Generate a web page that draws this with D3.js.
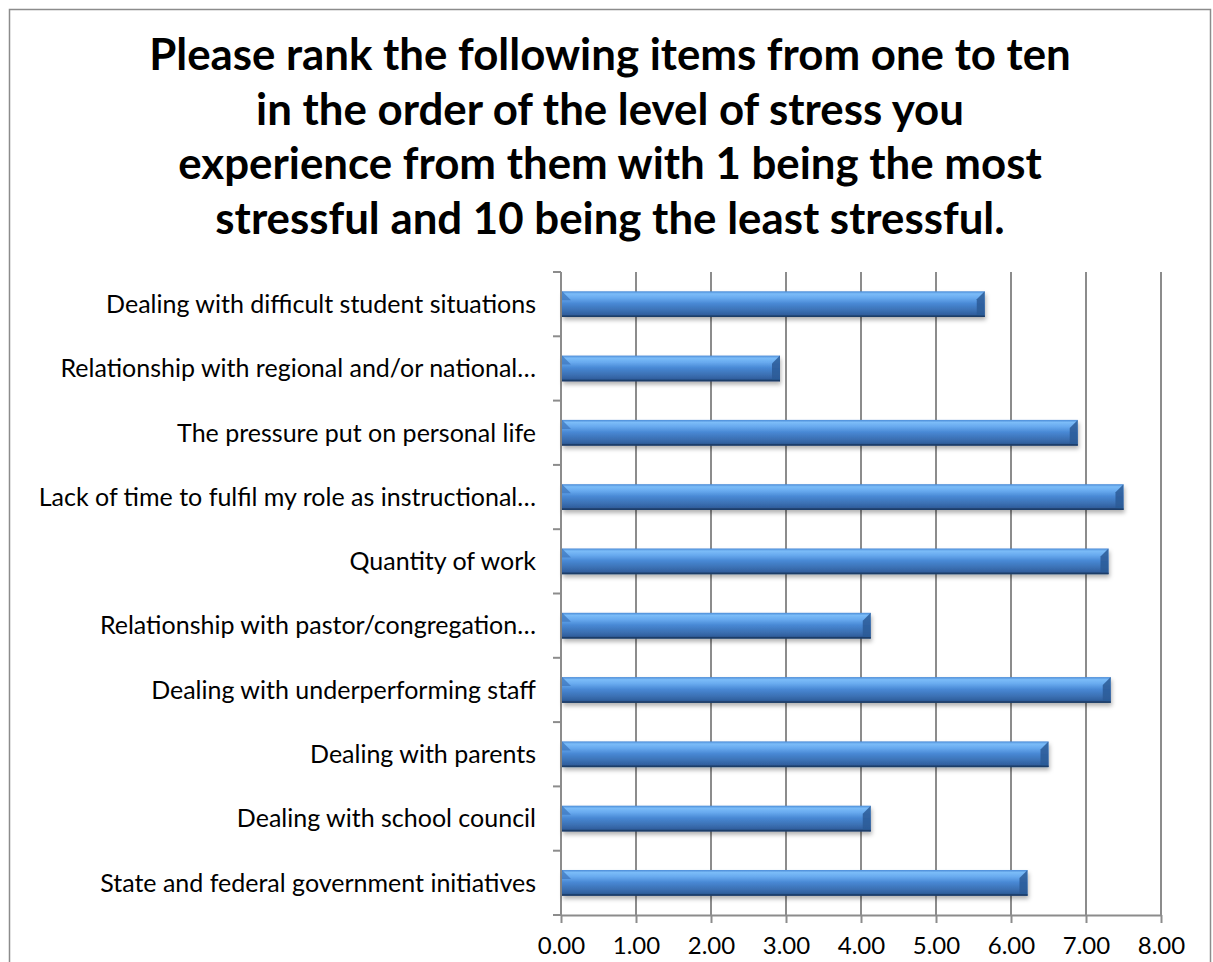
<!DOCTYPE html>
<html lang="en">
<head>
  <meta charset="utf-8">
  <title>Stress ranking</title>
  <script src="https://cdnjs.cloudflare.com/ajax/libs/d3/7.8.5/d3.min.js"></script>
  <style>
    body { margin: 0; background: #fff; }
    text { font-family: Lato, "Open Sans", sans-serif; fill: #000; }
    .grid line { stroke: #8c8c8c; stroke-width: 2; }
    .axis path, .axis line { stroke: #8c8c8c; stroke-width: 2; }
    .eixo-x text { font-size: 24px; }
  </style>
</head>
<body>
  <div id="chart"></div>

  <script>
    "use strict"

    var titulo = [
      "Please rank the following items from one to ten",
      "in the order of the level of stress you",
      "experience from them with 1 being the most",
      "stressful and 10 being the least stressful."
    ];

    var categorias = [
      "Dealing with difficult student situations",
      "Relationship with regional and/or national…",
      "The pressure put on personal life",
      "Lack of time to fulfil my role as instructional…",
      "Quantity of work",
      "Relationship with pastor/congregation…",
      "Dealing with underperforming staff",
      "Dealing with parents",
      "Dealing with school council",
      "State and federal government initiatives"
    ];

    var valores = [5.65, 2.92, 6.89, 7.50, 7.30, 4.13, 7.33, 6.50, 4.13, 6.22];

    var ticksX = [0, 1, 2, 3, 4, 5, 6, 7, 8];

    var larguraSVG = 1213, alturaSVG = 962;
    var margin = {top: 272, right: 52, bottom: 47, left: 561};
    var larguraVis = larguraSVG - margin.left - margin.right,
        alturaVis = alturaSVG - margin.top - margin.bottom;

    var svg = d3.select("#chart")
      .append("svg")
        .attr("width", larguraSVG)
        .attr("height", alturaSVG);

    // gradiente das barras
    var defs = svg.append("defs");
    var grad = defs.append("linearGradient")
        .attr("id", "gradBarra")
        .attr("x1", 0).attr("y1", 0).attr("x2", 0).attr("y2", 1);
    [["0%", "#4a8ad6"], ["10%", "#7bbcf8"], ["26%", "#68aaef"], ["48%", "#4888d4"],
     ["75%", "#3b70b3"], ["90%", "#31609f"], ["100%", "#1f416e"]]
      .forEach(function(s) { grad.append("stop").attr("offset", s[0]).attr("stop-color", s[1]); });

    var sombra = defs.append("filter")
        .attr("id", "sombra")
        .attr("x", "-5%").attr("y", "-20%").attr("width", "110%").attr("height", "160%");
    sombra.append("feDropShadow")
        .attr("dx", 1).attr("dy", 3).attr("stdDeviation", 2)
        .attr("flood-color", "#000").attr("flood-opacity", 0.3);

    // moldura
    svg.append("rect")
      .attr("x", 9.5).attr("y", 9.5)
      .attr("width", 1201).attr("height", 990)
      .attr("fill", "none")
      .attr("stroke", "#8c8c8c")
      .attr("stroke-width", 1.5);

    // titulo
    var tituloG = svg.append("g")
      .attr("font-weight", "bold")
      .attr("text-anchor", "middle");
    var linhasTitulo = tituloG.selectAll("text")
        .data(titulo)
      .enter().append("text")
        .attr("x", 610)
        .attr("y", function(d, i) { return 70 + i * 54.7; })
        .style("font-size", "40px")
        .text(function(d) { return d; });
    // ajusta o tamanho da fonte para a largura da primeira linha
    var w0 = linhasTitulo.node().getComputedTextLength();
    linhasTitulo.style("font-size", (40 * 922 / w0) + "px");

    var grafico = svg.append("g")
        .attr("transform", "translate(" + margin.left + "," + margin.top + ")");

    var x = d3.scaleLinear()
              .domain([0, 8])
              .range([0, larguraVis]);

    var y = d3.scaleBand()
              .domain(categorias)
              .range([0, alturaVis])
              .paddingInner(0.6)
              .paddingOuter(0.3);

    // grade vertical
    grafico.append("g")
      .attr("class", "grid")
      .selectAll("line")
        .data(ticksX.slice(1))
      .enter().append("line")
        .attr("x1", function(d) { return x(d); })
        .attr("x2", function(d) { return x(d); })
        .attr("y1", 0)
        .attr("y2", alturaVis);

    // eixo x
    grafico.append("g")
      .attr("class", "axis eixo-x")
      .attr("transform", "translate(0," + alturaVis + ")")
      .call(d3.axisBottom(x)
        .tickValues(ticksX)
        .tickSize(8)
        .tickSizeOuter(0)
        .tickPadding(14)
        .tickFormat(d3.format(".2f")))
      .attr("font-size", null)
      .attr("font-family", null);

    // eixo y com marcas entre categorias
    var bordas = d3.range(categorias.length + 1).map(function(i) { return i * alturaVis / categorias.length; });
    var eixoY = grafico.append("g").attr("class", "axis");
    eixoY.append("line")
      .attr("x1", 0).attr("x2", 0)
      .attr("y1", 0).attr("y2", alturaVis);
    eixoY.selectAll(".tk")
        .data(bordas)
      .enter().append("line")
        .attr("class", "tk")
        .attr("x1", -8).attr("x2", 0)
        .attr("y1", function(d) { return d; })
        .attr("y2", function(d) { return d; });

    var rotulos = eixoY.selectAll(".rot")
        .data(categorias)
      .enter().append("text")
        .attr("class", "rot")
        .attr("x", -25)
        .attr("y", function(d) { return y(d) + y.bandwidth() / 2; })
        .attr("dy", "0.35em")
        .attr("text-anchor", "end")
        .style("font-size", "20px")
        .text(function(d) { return d; });
    var wRef = rotulos.filter(function(d, i) { return i === 9; }).node().getComputedTextLength();
    rotulos.style("font-size", (20 * 436 / wRef) + "px");

    // barras
    var barras = grafico.selectAll(".barra")
        .data(valores)
      .enter().append("g")
        .attr("class", "barra")
        .attr("filter", "url(#sombra)");

    barras.append("rect")
      .attr("x", 1)
      .attr("y", function(d, i) { return y(categorias[i]); })
      .attr("width", function(d) { return x(d) - 1; })
      .attr("height", y.bandwidth())
      .attr("fill", "url(#gradBarra)");

    // chanfro da ponta direita
    barras.append("path")
      .attr("d", function(d, i) {
        var x1 = x(d), y0 = y(categorias[i]), h = y.bandwidth(), b = 8;
        return "M" + x1 + "," + y0 + "L" + x1 + "," + (y0 + h) + "L" + (x1 - b) + "," + (y0 + h - 2) +
               "L" + (x1 - b) + "," + (y0 + b) + "Z";
      })
      .attr("fill", "#2c5a96")
      .attr("opacity", 0.85);

    // chanfro da ponta esquerda
    barras.append("path")
      .attr("d", function(d, i) {
        var y0 = y(categorias[i]), b = 9;
        return "M1," + y0 + "L" + (1 + b) + "," + (y0 + b) + "L1," + (y0 + b) + "Z";
      })
      .attr("fill", "#3b74bb")
      .attr("opacity", 0.7);

    barras.append("rect")
      .attr("x", 1)
      .attr("y", function(d, i) { return y(categorias[i]) + y.bandwidth() - 1.5; })
      .attr("width", function(d) { return x(d) - 1; })
      .attr("height", 1.5)
      .attr("fill", "#1d3d68");
  </script>
</body>
</html>
